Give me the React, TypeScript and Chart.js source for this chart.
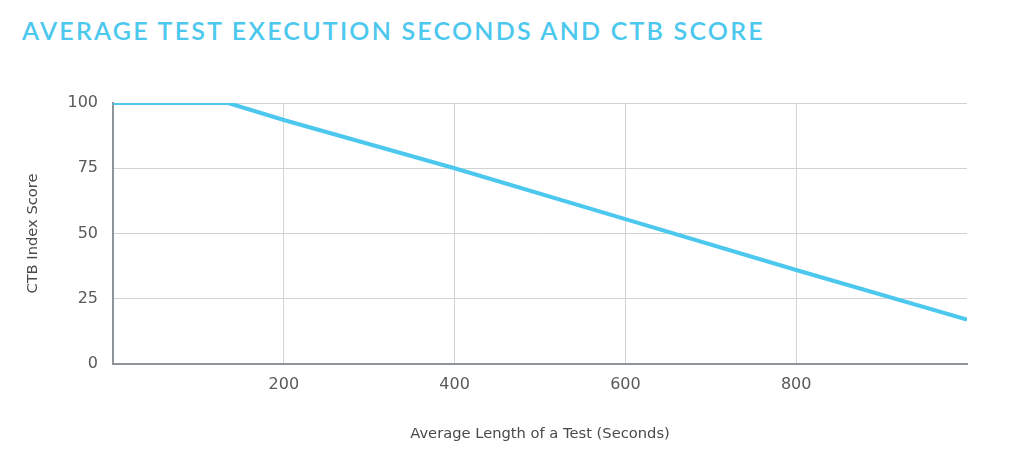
import React, { useEffect, useRef } from "react";
import { Chart, registerables } from "chart.js";

Chart.register(...registerables);

const TITLE = "AVERAGE TEST EXECUTION SECONDS AND CTB SCORE";
const X_TITLE = "Average Length of a Test (Seconds)";
const Y_TITLE = "CTB Index Score";
const testSeconds = [0, 135, 200, 400, 600, 800, 1000];
const ctbScore = [100, 100, 93.5, 75, 55.5, 36, 17];
const xTicksShown = [200, 400, 600, 800];
const yTicks = [0, 25, 50, 75, 100];

const BLUE = "#4cc8ee";
const FONT = "'DejaVu Sans', sans-serif";

export default function App() {
  const ref = useRef<HTMLCanvasElement | null>(null);
  useEffect(() => {
    if (!ref.current) return;
    const chart = new Chart(ref.current, {
      type: "line",
      data: {
        datasets: [
          {
            data: testSeconds.map((x, i) => ({ x, y: ctbScore[i] })),
            borderColor: BLUE,
            borderWidth: 4,
            pointRadius: 0,
            tension: 0,
            fill: false,
          },
        ],
      },
      options: {
        animation: false,
        responsive: true,
        maintainAspectRatio: false,
        layout: { padding: { top: 103, right: 57, bottom: 0, left: 0 } },
        plugins: { legend: { display: false }, tooltip: { enabled: false } },
        scales: {
          x: {
            type: "linear",
            min: 0,
            max: 1000,
            afterFit: (s: any) => {
              s.height = 96;
            },
            afterBuildTicks: (s: any) => {
              s.ticks = [0, ...xTicksShown, 1000].map((v) => ({ value: v }));
            },
            ticks: {
              padding: 11,
              color: "#5a5a5a",
              font: { family: FONT, size: 16 },
              callback: (v: any) => (xTicksShown.includes(Number(v)) ? String(v) : ""),
            },
            grid: {
              drawTicks: false,
              color: (c: any) => (c.tick && (c.tick.value === 1000 || c.tick.value === 0) ? "rgba(0,0,0,0)" : "#d2d2d2"),
              lineWidth: 1,
            },
            border: { color: "#8e9498", width: 2 },
            title: {
              display: true,
              text: X_TITLE,
              color: "#4a4a4a",
              font: { family: FONT, size: 14.7 },
              padding: { top: 0, bottom: 17 },
            },
          },
          y: {
            min: 0,
            max: 100,
            afterFit: (s: any) => {
              s.width = 113;
            },
            afterBuildTicks: (s: any) => {
              s.ticks = yTicks.map((v) => ({ value: v }));
            },
            ticks: {
              padding: 15,
              color: "#5a5a5a",
              font: { family: FONT, size: 16 },
            },
            grid: {
              drawTicks: false,
              color: (c: any) => (c.tick && c.tick.value === 0 ? "rgba(0,0,0,0)" : "#d2d2d2"),
              lineWidth: 1,
            },
            border: { color: "#8e9498", width: 2 },
            title: {
              display: true,
              text: Y_TITLE,
              color: "#4a4a4a",
              font: { family: FONT, size: 14.7 },
              padding: { top: 24, bottom: 0 },
            },
          },
        },
      },
    });
    return () => chart.destroy();
  }, []);

  return (
    <div style={{ position: "fixed", left: 0, top: 0, width: 1024, height: 460, background: "#fff" }}>
      <div
        style={{
          position: "absolute",
          left: 22,
          top: 15,
          fontFamily: "Lato",
          fontWeight: 600,
          fontSize: 25,
          letterSpacing: "2.2px",
          color: BLUE,
          whiteSpace: "nowrap",
        }}
      >
        {TITLE}
      </div>
      <div style={{ position: "absolute", left: 0, top: 0, width: 1024, height: 460 }}>
        <canvas ref={ref} />
      </div>
    </div>
  );
}
